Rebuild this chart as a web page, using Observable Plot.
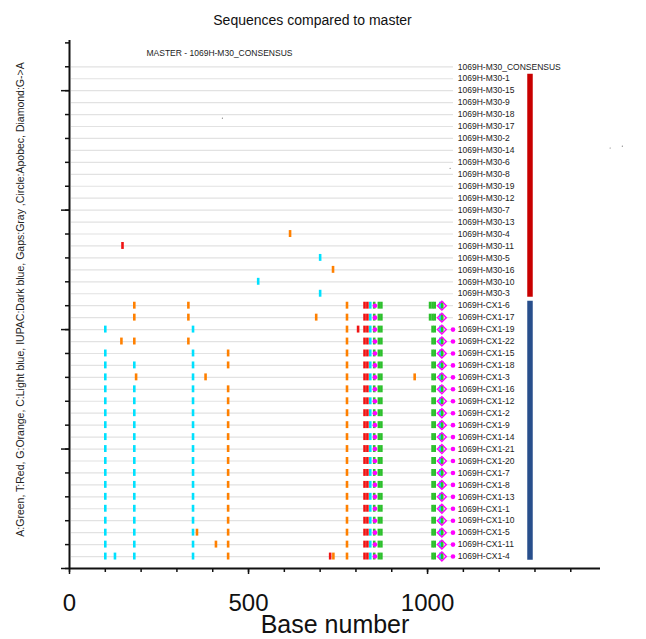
<!DOCTYPE html>
<html><head><meta charset="utf-8">
<script src="https://cdn.jsdelivr.net/npm/d3@7"></script>
<script src="https://cdn.jsdelivr.net/npm/@observablehq/plot@0.6"></script>
<style>body{margin:0;background:#fff}</style>
</head><body><div id="chart"></div>
<script>
const title = "Sequences compared to master";
const masterLabel = "MASTER - 1069H-M30_CONSENSUS";
const yLabel = "A:Green, T:Red, G:Orange, C:Light blue, IUPAC:Dark blue, Gaps:Gray ,Circle:Apobec, Diamond:G->A";
const xLabel = "Base number";

// sequences, top to bottom
const rowNames = [
  "1069H-M30_CONSENSUS","1069H-M30-1","1069H-M30-15","1069H-M30-9","1069H-M30-18","1069H-M30-17",
  "1069H-M30-2","1069H-M30-14","1069H-M30-6","1069H-M30-8","1069H-M30-19","1069H-M30-12",
  "1069H-M30-7","1069H-M30-13","1069H-M30-4","1069H-M30-11","1069H-M30-5","1069H-M30-16",
  "1069H-M30-10","1069H-M30-3",
  "1069H-CX1-6","1069H-CX1-17","1069H-CX1-19","1069H-CX1-22","1069H-CX1-15","1069H-CX1-18",
  "1069H-CX1-3","1069H-CX1-16","1069H-CX1-12","1069H-CX1-2","1069H-CX1-9","1069H-CX1-14",
  "1069H-CX1-21","1069H-CX1-20","1069H-CX1-7","1069H-CX1-8","1069H-CX1-13","1069H-CX1-1",
  "1069H-CX1-10","1069H-CX1-5","1069H-CX1-11","1069H-CX1-4"
];

// per sequence: base letter + position (A,T,G,C ticks), o = Apobec circle, d = G->A diamond
const rowMutations = [
  ["1069H-M30-4",  "G616"],
  ["1069H-M30-11", "T148"],
  ["1069H-M30-5",  "C700"],
  ["1069H-M30-16", "G736"],
  ["1069H-M30-10", "C527"],
  ["1069H-M30-3",  "C700"],
  ["1069H-CX1-6",  "G181 G332 G775 T824 T832 C840 A851 A864 A871 o853 A1007 A1014 A1020 C1036 A1041 d1040"],
  ["1069H-CX1-17", "G181 G332 G689 G775 T824 T832 C840 A851 A864 A871 o853 A1007 A1014 A1020 C1036 A1041 d1040"],
  ["1069H-CX1-19", "C100 C345 G775 T806 T824 T832 C840 A851 A864 A871 o853 A1014 A1020 C1036 A1041 d1040 o1071"],
  ["1069H-CX1-22", "G145 G181 G332 G775 T824 T832 C840 A851 A864 A871 o853 A1014 A1020 C1036 A1041 d1040 o1071"],
  ["1069H-CX1-15", "C100 C345 G443 G775 T824 T832 C840 A851 A864 A871 o853 A1014 A1020 C1036 A1041 d1040 o1071"],
  ["1069H-CX1-18", "C100 C181 C345 G443 G775 T824 T832 C840 A851 A864 A871 o853 A1014 A1020 C1036 A1041 d1040 o1071"],
  ["1069H-CX1-3",  "C100 G186 C345 G380 G775 T824 T832 C840 A851 A864 A871 o853 G964 A1014 A1020 C1036 A1041 d1040 o1071"],
  ["1069H-CX1-16", "C100 C181 C345 G443 G775 T824 T832 C840 A851 A864 A871 o853 A1014 A1020 C1036 A1041 d1040 o1071"],
  ["1069H-CX1-12", "C100 C181 C345 G443 G775 T824 T832 C840 A851 A864 A871 o853 A1014 A1020 C1036 A1041 d1040 o1071"],
  ["1069H-CX1-2",  "C100 C181 C345 G443 G775 T824 T832 C840 A851 A864 A871 o853 A1014 A1020 C1036 A1041 d1040 o1071"],
  ["1069H-CX1-9",  "C100 C181 C345 G443 G775 T824 T832 C840 A851 A864 A871 o853 A1014 A1020 C1036 A1041 d1040 o1071"],
  ["1069H-CX1-14", "C100 C181 C345 G443 G775 T824 T832 C840 A851 A864 A871 o853 A1014 A1020 C1036 A1041 d1040 o1071"],
  ["1069H-CX1-21", "C100 C181 C345 G443 G775 T824 T832 C840 A851 A864 A871 o853 A1014 A1020 C1036 A1041 d1040 o1071"],
  ["1069H-CX1-20", "C100 C181 C345 G443 G775 T824 T832 C840 A851 A864 A871 o853 A1014 A1020 C1036 A1041 d1040 o1071"],
  ["1069H-CX1-7",  "C100 C181 C345 G443 G775 T824 T832 C840 A851 A864 A871 o853 A1014 A1020 C1036 A1041 d1040 o1071"],
  ["1069H-CX1-8",  "C100 C181 C345 G443 G775 T824 T832 C840 A851 A864 A871 o853 A1014 A1020 C1036 A1041 d1040 o1071"],
  ["1069H-CX1-13", "C100 C181 C345 G443 G775 T824 T832 C840 A851 A864 A871 o853 A1014 A1020 C1036 A1041 d1040 o1071"],
  ["1069H-CX1-1",  "C100 C181 C345 G443 G775 T824 T832 C840 A851 A864 A871 o853 A1014 A1020 C1036 A1041 d1040 o1071"],
  ["1069H-CX1-10", "C100 C181 C345 G443 G775 T824 T832 C840 A851 A864 A871 o853 A1014 A1020 C1036 A1041 d1040 o1071"],
  ["1069H-CX1-5",  "C100 C181 C345 G356 G443 G775 T824 T832 C840 A851 A864 A871 o853 A1014 A1020 C1036 A1041 d1040 o1071"],
  ["1069H-CX1-11", "C100 C181 C345 G409 G443 G775 T824 T832 C840 A851 A864 A871 o853 A1014 A1020 C1036 A1041 d1040 o1071"],
  ["1069H-CX1-4",  "C100 C127 C181 C345 G443 T728 G737 G775 T824 T832 C840 A851 A864 A871 o853 A1014 A1020 C1036 A1041 d1040 o1071"]
];

// sample groups: first row, last row, colour
const groupFirst = ["1069H-M30-1", "1069H-CX1-6"];
const groupLast  = ["1069H-M30-3", "1069H-CX1-4"];
const groupColor = ["#c80000", "#284f8c"];

// stray specks in the picture: [base, row]
const specks = [[427, 37.7], [1063, 33.5], [1510, 35.2], [1544, 35.35]];

const xTicks = [0,100,200,300,400,500,600,700,800,900,1000,1100,1200,1300,1400];
const xTickLabels = [0, 500, 1000];
const yTicks = [0,2,4,6,8,10,12,14,16,18,20,22,24,26,28,30,32,34,36,38,40,42,44];
const yMajorTicks = [0, 10, 20, 30, 40];

const baseColor = {A: "#2cc02c", T: "#f01414", G: "#ff8000", C: "#00e1ff"};

const rows = rowNames.map((name, i) => ({name, y: rowNames.length - i}));
const rowY = new Map(rows.map(r => [r.name, r.y]));
const ticks = [], circles = [], diamonds = [];
for (const [row, s] of rowMutations) {
  for (const tok of s.split(" ")) {
    const kind = tok[0], pos = +tok.slice(1), y = rowY.get(row);
    if (kind === "o") circles.push({pos, y});
    else if (kind === "d") diamonds.push({pos, y});
    else ticks.push({pos, y, base: kind});
  }
}
const groups = groupFirst.map((f, i) => ({top: rowY.get(f), bottom: rowY.get(groupLast[i]), color: groupColor[i]}));

const chart = Plot.plot({
  width: 646, height: 639,
  marginLeft: 69, marginRight: 46, marginTop: 40, marginBottom: 71,
  x: {domain: [0, 1483]},
  y: {domain: [0, 44.2]},
  style: {fontFamily: "'Liberation Sans', Arial, Helvetica, sans-serif", background: "#fff", overflow: "visible", color: "#111"},
  marks: [
    Plot.ruleY(rows, {y: "y", stroke: "#e2e2e2", strokeWidth: 1.2, insetLeft: 2, insetRight: 147}),
    Plot.ruleX(ticks, {x: "pos", y1: d => d.y - 0.29, y2: d => d.y + 0.29, stroke: d => baseColor[d.base], strokeWidth: 2.6}),
    Plot.dot(diamonds, {x: "pos", y: "y", symbol: "diamond2", r: 4, stroke: "#ff00ff", strokeWidth: 1.4, fill: "none"}),
    Plot.dot(circles, {x: "pos", y: "y", r: 2.3, fill: "#ff00ff", stroke: null}),
    Plot.ruleX(groups, {x: null, y1: d => d.bottom - 0.3, y2: d => d.top + 0.38, stroke: d => d.color, strokeWidth: 5.5, dx: 195}),
    Plot.dot(specks, {x: d => d[0], y: d => d[1], r: 0.6, fill: "#777", stroke: null}),
    Plot.axisX({ticks: xTicks, tickSize: 4, tickFormat: () => "", strokeWidth: 1.5, label: null}),
    Plot.axisX({ticks: xTickLabels, tickSize: 6, tickPadding: 19, tickFormat: d => String(d), fontSize: 24, strokeWidth: 1.5, label: null}),
    Plot.axisY({ticks: yTicks, tickSize: 4, tickFormat: () => "", strokeWidth: 1.5, label: null}),
    Plot.axisY({ticks: yMajorTicks, tickSize: 8, tickFormat: () => "", strokeWidth: 1.5, label: null}),
    Plot.ruleX([0], {stroke: "#111", strokeWidth: 2}),
    Plot.ruleY([0], {stroke: "#111", strokeWidth: 2}),
    Plot.text(rows, {y: "y", text: "name", frameAnchor: "right", dx: -142.7, textAnchor: "start", lineAnchor: "middle", fontSize: 8.5, fill: "#222"}),
    Plot.text([title], {text: d => d, frameAnchor: "top", dx: -22.5, dy: -20, fontSize: 14, lineAnchor: "middle", fill: "#111"}),
    Plot.text([masterLabel], {text: d => d, frameAnchor: "top-left", textAnchor: "start", dx: 77, dy: 12.7, fontSize: 8.5, lineAnchor: "middle", fill: "#222"}),
    Plot.text([yLabel], {text: d => d, frameAnchor: "left", rotate: -90, dx: -49, dy: -5, textAnchor: "middle", lineAnchor: "middle", fontSize: 10.5, fill: "#222"}),
    Plot.text([xLabel], {text: d => d, frameAnchor: "bottom", dy: 56.5, fontSize: 25, lineAnchor: "middle", fill: "#111"})
  ]
});
document.getElementById("chart").append(chart);
</script>
</body></html>
